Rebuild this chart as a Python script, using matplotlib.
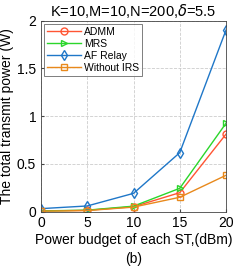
import matplotlib.pyplot as plt
import numpy as np

plt.rcParams['font.family'] = ['Liberation Sans', 'DejaVu Sans']

power_dbm = [0, 5, 10, 15, 20]
admm = [0.005, 0.012, 0.05, 0.197, 0.81]
mrs = [0.006, 0.014, 0.056, 0.243, 0.924]
af_relay = [0.03, 0.058, 0.19, 0.616, 1.90]
without_irs = [0.004, 0.01, 0.046, 0.149, 0.379]

fig = plt.figure(figsize=(2.49, 2.68), dpi=100)
ax = fig.add_axes([41 / 249, 1 - 211.5 / 268, 185 / 249, 191 / 268])

ax.plot(power_dbm, admm, 'o-', color='#FF5533', label='ADMM', mfc='none', markersize=5, linewidth=1)
ax.plot(power_dbm, mrs, '>-', color='#2BD62B', label='MRS', mfc='none', markersize=5, linewidth=1)
ax.plot(power_dbm, af_relay, 'd-', color='#1F77C8', label='AF Relay', mfc='none', markersize=5, linewidth=1)
ax.plot(power_dbm, without_irs, 's-', color='#E8891C', label='Without IRS', mfc='none', markersize=4.5, linewidth=1)

ax.set_xlim(0, 20)
ax.set_ylim(0, 2)
ax.set_xticks([0, 5, 10, 15, 20])
ax.set_yticks([0, 0.5, 1, 1.5, 2])
ax.set_yticklabels(['0', '0.5', '1', '1.5', '2'])
ax.tick_params(labelsize=10, direction='in', length=2, color='#444444')
ax.grid(True, linestyle='--', color='#cccccc', linewidth=0.6)
for s in ax.spines.values():
    s.set_color('#444444')
    s.set_linewidth(0.6)

ax.set_title(r'K=10,M=10,N=200,$\delta$=5.5', fontsize=10.5, pad=3)
ax.set_xlabel('Power budget of each ST,(dBm)\n(b)', fontsize=10, labelpad=2, linespacing=1.4)
ax.set_ylabel('The total transmit power (W)', fontsize=10, labelpad=2)

leg = ax.legend(loc='upper left', fontsize=7.5, frameon=True, fancybox=False,
                edgecolor='#444444', borderpad=0.3, labelspacing=0.2,
                handlelength=3.2, handletextpad=0.3, borderaxespad=0.3)
leg.get_frame().set_linewidth(0.6)

fig.savefig('out.png', dpi=100)
